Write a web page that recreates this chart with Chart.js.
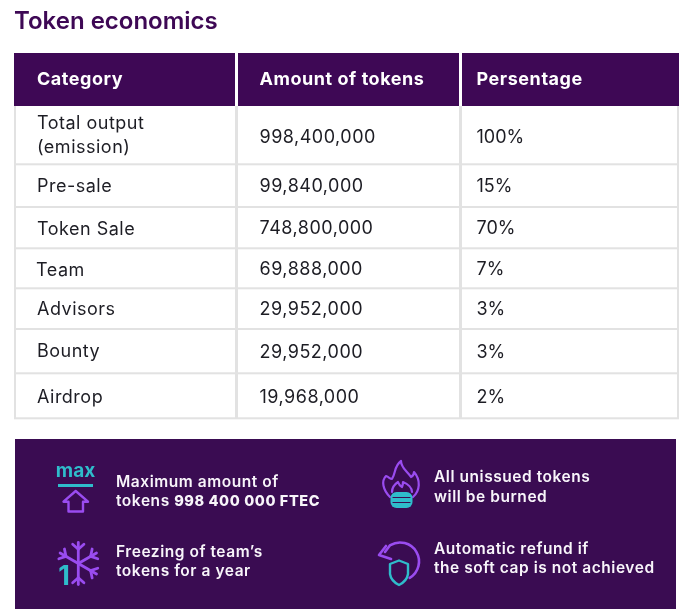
<!DOCTYPE html>
<html>
<head>
<meta charset="utf-8">
<title>Token economics</title>
<script src="https://cdn.jsdelivr.net/npm/chart.js@4/dist/chart.umd.js"></script>
<style>
  html, body { margin: 0; padding: 0; background: #fff; }
  canvas { display: block; }
</style>
</head>
<body>
<canvas id="chart" width="686" height="615"></canvas>
<script>
// Table content
var headers = ["Category", "Amount of tokens", "Persentage"];
var categories = [["Total output", "(emission)"], ["Pre-sale"], ["Token Sale"], ["Team"], ["Advisors"], ["Bounty"], ["Airdrop"]];
var amounts = ["998,400,000", "99,840,000", "748,800,000", "69,888,000", "29,952,000", "29,952,000", "19,968,000"];
var percents = ["100%", "15%", "70%", "7%", "3%", "3%", "2%"];
var notes = [
  [[["Maximum amount of", false]], [["tokens ", false], ["998 400 000 FTEC", true]]],
  [[["Freezing of team\u2019s", false]], [["tokens for a year", false]]],
  [[["All unissued tokens", false]], [["will be burned", false]]],
  [[["Automatic refund if", false]], [["the soft cap is not achieved", false]]]
];

// Layout, in scale units (the scales run 1:1 with the canvas)
var colEdges = [14, 236.5, 460.5, 679];
var rowEdges = [106, 164.3, 207, 248.3, 288.3, 329, 373.3, 418.3];
var headerTop = 53;
var catX = [37, 37, 37, 36, 37, 37, 37];
var catY = [136, 186.5, 229.5, 270.5, 309.5, 351.5, 397.5];
var valY = [138, 187, 229, 270, 310, 353, 397.5];
var panel = { left: 15, right: 676, top: 439, bottom: 609 };
var noteX = [116, 116, 434, 434];
var noteY = [482, 552, 477.5, 549];

var PURPLE_DARK = "#3e0855";
var PANEL_BG = "#3a0c52";
var GRID = "#e2e2e2";
var INK = "#1d1d24";
var TEAL = "#2fbccb";
var VIOLET = "#9a4cf0";
var FONT = "Inter, 'Noto Sans', sans-serif";

function anchors(xs, ys) {
  return ys.map(function (y, i) {
    return { x: Array.isArray(xs) ? xs[i] : xs, y: y };
  });
}

function drawIcons(ctx, x, y) {
  ctx.save();
  ctx.lineJoin = "round";
  ctx.lineCap = "round";

  // max + arrow house
  ctx.fillStyle = TEAL;
  ctx.font = "700 19px " + FONT;
  ctx.textAlign = "center";
  ctx.textBaseline = "middle";
  ctx.fillText("max", x(75.5), y(471));
  ctx.fillRect(x(58), y(484), 35, 3);
  ctx.strokeStyle = VIOLET;
  ctx.lineWidth = 2.4;
  path(ctx, [[75.7, 491], [63.5, 501.7], [68.5, 501.7], [68.5, 511.5], [83, 511.5], [83, 501.7], [88, 501.7]], true);

  // snowflake with a teal 1
  ctx.lineWidth = 2.8;
  var cx = 78.3, cy = 563.5, len = 21;
  [90, 270, 30, -30, 150].forEach(function (deg) {
    var a = deg * Math.PI / 180;
    var ex = cx + Math.cos(a) * len, ey = cy - Math.sin(a) * len;
    path(ctx, [[cx, cy], [ex, ey]]);
    var mx = cx + Math.cos(a) * len * 0.68, my = cy - Math.sin(a) * len * 0.68;
    [a + 0.85, a - 0.85].forEach(function (b) {
      path(ctx, [[mx, my], [mx + Math.cos(b) * 7.5, my - Math.sin(b) * 7.5]]);
    });
  });
  ctx.fillStyle = TEAL;
  ctx.font = "700 27px " + FONT;
  ctx.fillText("1", x(64), y(577));

  // burning coins
  ctx.strokeStyle = VIOLET;
  ctx.lineWidth = 2.2;
  ctx.beginPath();
  ctx.moveTo(x(390), y(497));
  ctx.bezierCurveTo(x(383), y(490), x(381), y(481), x(386), y(476));
  ctx.bezierCurveTo(x(389), y(477), x(390), y(479), x(392), y(479));
  ctx.bezierCurveTo(x(396), y(473), x(394), y(466), x(401), y(461));
  ctx.bezierCurveTo(x(401), y(468), x(407), y(471), x(411), y(477));
  ctx.bezierCurveTo(x(413), y(476), x(414), y(474), x(414), y(472));
  ctx.bezierCurveTo(x(421), y(480), x(420), y(491), x(413), y(497));
  ctx.stroke();
  ctx.beginPath();
  ctx.moveTo(x(392), y(492));
  ctx.bezierCurveTo(x(392), y(487), x(395), y(484), x(398), y(482));
  ctx.bezierCurveTo(x(399), y(485), x(400), y(486), x(402), y(487));
  ctx.bezierCurveTo(x(403), y(485), x(403), y(484), x(403), y(482));
  ctx.bezierCurveTo(x(408), y(484), x(412), y(488), x(412), y(492));
  ctx.stroke();
  ctx.fillStyle = TEAL;
  ctx.beginPath();
  ctx.roundRect(x(390.5), y(492), 22, 16, 6);
  ctx.fill();
  ctx.strokeStyle = PANEL_BG;
  ctx.lineWidth = 1.2;
  path(ctx, [[393, 497.5], [410, 497.5]]);
  path(ctx, [[393, 502.5], [410, 502.5]]);

  // refund arrow + shield
  ctx.strokeStyle = VIOLET;
  ctx.lineWidth = 2.6;
  ctx.beginPath();
  ctx.arc(x(400), y(561.5), 19, Math.PI * 0.33, -Math.PI * 0.68, true);
  ctx.lineTo(x(385), y(552));
  ctx.stroke();
  path(ctx, [[386, 546], [379, 555], [391, 559]]);
  ctx.strokeStyle = TEAL;
  ctx.lineWidth = 2.4;
  ctx.beginPath();
  ctx.moveTo(x(399), y(560.5));
  ctx.lineTo(x(408), y(564));
  ctx.lineTo(x(408), y(574));
  ctx.quadraticCurveTo(x(407), y(581), x(399), y(585));
  ctx.quadraticCurveTo(x(391), y(581), x(390), y(574));
  ctx.lineTo(x(390), y(564));
  ctx.closePath();
  ctx.stroke();
  ctx.restore();

  function path(c, pts, close) {
    c.beginPath();
    pts.forEach(function (p, i) {
      if (i === 0) c.moveTo(x(p[0]), y(p[1]));
      else c.lineTo(x(p[0]), y(p[1]));
    });
    if (close) c.closePath();
    c.stroke();
  }
}

var tablePlugin = {
  id: "tokenTable",
  beforeDatasetsDraw: function (chart) {
    var ctx = chart.ctx;
    var x = function (v) { return chart.scales.x.getPixelForValue(v); };
    var y = function (v) { return chart.scales.y.getPixelForValue(v); };
    ctx.save();

    // Title
    ctx.fillStyle = PURPLE_DARK;
    ctx.font = "600 24px " + FONT;
    ctx.textBaseline = "middle";
    ctx.textAlign = "left";
    ctx.fillText("Token economics", x(14), y(22));

    // Header band
    ctx.fillStyle = PURPLE_DARK;
    ctx.fillRect(x(14), y(headerTop), x(679) - x(14), y(rowEdges[0]) - y(headerTop));

    // Grid
    ctx.fillStyle = GRID;
    rowEdges.slice(1).forEach(function (r) {
      ctx.fillRect(x(14), y(r - 1), x(679) - x(14), 2);
    });
    [14, 677].forEach(function (c) {
      ctx.fillRect(x(c), y(rowEdges[0]), 2, y(rowEdges[7]) - y(rowEdges[0]));
    });
    [colEdges[1], colEdges[2]].forEach(function (c) {
      ctx.fillRect(x(c - 1.5), y(rowEdges[0]), 3, y(rowEdges[7]) - y(rowEdges[0]));
      ctx.fillStyle = "#ffffff";
      ctx.fillRect(x(c - 1.5), y(headerTop), 3, y(rowEdges[0]) - y(headerTop));
      ctx.fillStyle = GRID;
    });

    // Panel
    ctx.fillStyle = PANEL_BG;
    ctx.fillRect(x(panel.left), y(panel.top), x(panel.right) - x(panel.left), y(panel.bottom) - y(panel.top));
    drawIcons(ctx, x, y);
    ctx.restore();
  },
  afterDatasetsDraw: function (chart) {
    var ctx = chart.ctx;
    ctx.save();
    ctx.textBaseline = "middle";
    ctx.textAlign = "left";

    // Header labels
    ctx.fillStyle = "#ffffff";
    ctx.font = "700 18px " + FONT;
    ctx.letterSpacing = "0.55px";
    chart.getDatasetMeta(0).data.forEach(function (pt, i) {
      ctx.fillText(headers[i], pt.x, pt.y);
    });

    // Body cells
    ctx.fillStyle = INK;
    ctx.font = "400 18px " + FONT;
    ctx.letterSpacing = "0.5px";
    chart.getDatasetMeta(1).data.forEach(function (pt, i) {
      var lines = categories[i];
      lines.forEach(function (line, k) {
        ctx.fillText(line, pt.x, pt.y + (k - (lines.length - 1) / 2) * 24);
      });
    });
    chart.getDatasetMeta(2).data.forEach(function (pt, i) { ctx.fillText(amounts[i], pt.x, pt.y); });
    ctx.letterSpacing = "0px";
    chart.getDatasetMeta(3).data.forEach(function (pt, i) { ctx.fillText(percents[i], pt.x, pt.y); });

    // Panel notes
    ctx.fillStyle = "#f8f5fa";
    chart.getDatasetMeta(4).data.forEach(function (pt, i) {
      notes[i].forEach(function (runs, k) {
        var cur = pt.x;
        runs.forEach(function (run) {
          ctx.font = run[1] ? "800 14.5px " + FONT : "600 15.5px " + FONT;
          ctx.letterSpacing = run[1] ? "0.6px" : "0.55px";
          ctx.fillText(run[0], cur, pt.y + k * 19.5);
          cur += ctx.measureText(run[0]).width;
        });
      });
    });
    ctx.restore();
  }
};

function hiddenPoints(data) {
  return { data: data, pointRadius: 0, pointHoverRadius: 0, showLine: false };
}

new Chart(document.getElementById("chart"), {
  type: "scatter",
  data: {
    datasets: [
      hiddenPoints(anchors([37, 259.5, 476.5], [80, 80, 80])),
      hiddenPoints(anchors(catX, catY)),
      hiddenPoints(anchors(259.5, valY)),
      hiddenPoints(anchors(476.5, valY)),
      hiddenPoints(anchors(noteX, noteY))
    ]
  },
  options: {
    responsive: false,
    animation: false,
    events: [],
    layout: { padding: 0 },
    plugins: { legend: { display: false }, tooltip: { enabled: false }, title: { display: false } },
    scales: {
      x: { type: "linear", display: false, min: 0, max: 686 },
      y: { type: "linear", display: false, min: 0, max: 615, reverse: true }
    }
  },
  plugins: [tablePlugin]
});
</script>
</body>
</html>
